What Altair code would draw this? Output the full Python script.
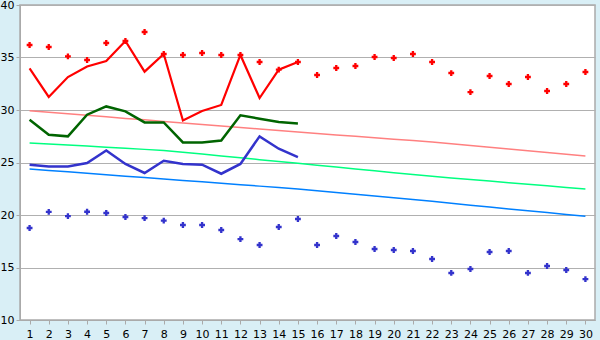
import altair as alt
import pandas as pd

days = list(range(1, 31))
days15 = list(range(1, 16))

red_points = [36.19, 36.0, 35.1, 34.76, 36.38, 36.57, 37.43, 35.33, 35.24, 35.43,
              35.24, 35.24, 34.57, 33.84, 34.57, 33.33, 34.0, 34.19, 35.05, 34.95,
              35.33, 34.57, 33.52, 31.71, 33.24, 32.48, 33.14, 31.81, 32.48, 33.62]
blue_points = [18.76, 20.29, 19.9, 20.31, 20.19, 19.81, 19.71, 19.46, 19.05, 19.05,
               18.57, 17.71, 17.14, 18.86, 19.62, 17.14, 18.0, 17.43, 16.76, 16.67,
               16.57, 15.81, 14.48, 14.86, 16.48, 16.57, 14.48, 15.14, 14.76, 13.90]

red_line = [33.96, 31.24, 33.14, 34.15, 34.67, 36.57, 33.65, 35.33, 29.0, 29.9,
            30.48, 35.24, 31.14, 33.84, 34.57]
green_line = [29.08, 27.65, 27.49, 29.55, 30.34, 29.87, 28.82, 28.82, 26.91, 26.91,
              27.1, 29.49, 29.17, 28.85, 28.72]
blue_line = [24.79, 24.63, 24.63, 24.95, 26.15, 24.86, 24.0, 25.17, 24.86, 24.79,
             23.93, 24.86, 27.49, 26.31, 25.52]

pink_trend = [29.93, 29.78, 29.64, 29.49, 29.35, 29.20, 29.06, 28.91, 28.77, 28.62,
              28.48, 28.33, 28.19, 28.04, 27.90, 27.76, 27.63, 27.49, 27.36, 27.22,
              27.09, 26.95, 26.78, 26.62, 26.45, 26.29, 26.12, 25.95, 25.79, 25.62]
green_trend = [26.86, 26.76, 26.66, 26.56, 26.45, 26.35, 26.25, 26.15, 25.97, 25.80,
               25.62, 25.45, 25.27, 25.10, 24.92, 24.74, 24.57, 24.39, 24.21, 24.03,
               23.86, 23.68, 23.53, 23.38, 23.23, 23.08, 22.93, 22.78, 22.63, 22.48]
blue_trend = [24.38, 24.24, 24.11, 23.97, 23.84, 23.70, 23.57, 23.43, 23.29, 23.16,
              23.02, 22.89, 22.75, 22.62, 22.48, 22.31, 22.14, 21.97, 21.81, 21.64,
              21.47, 21.30, 21.12, 20.94, 20.76, 20.58, 20.40, 20.23, 20.05, 19.87]

x_ticks = list(range(1, 31))
y_ticks = [10, 15, 20, 25, 30, 35, 40]

xscale = alt.Scale(domain=[0.5, 30.5], nice=False, zero=False)
yscale = alt.Scale(domain=[10, 40], nice=False, zero=False)

axis_common = dict(
    labelFont="DejaVu Sans", labelFontSize=11, labelColor="#000000",
    domainColor="#aaaaaa", tickColor="#aaaaaa", tickSize=4, title=None,
)
xaxis = alt.Axis(values=x_ticks, grid=False, labelPadding=4, labelAngle=0,
                 format="d", **axis_common)
yaxis = alt.Axis(values=y_ticks, grid=True, gridColor="#b0b0b0", gridWidth=1.2,
                 labelPadding=2, format="d", **axis_common)


def line_layer(xs, ys, color, width):
    df = pd.DataFrame({"d": xs, "v": ys})
    return alt.Chart(df).mark_line(color=color, strokeWidth=width, interpolate="linear").encode(
        x=alt.X("d:Q", scale=xscale, axis=xaxis),
        y=alt.Y("v:Q", scale=yscale, axis=yaxis),
    )


def point_layer(xs, ys, color):
    df = pd.DataFrame({"d": xs, "v": ys})
    return alt.Chart(df).mark_point(shape="cross", filled=True, color=color, size=34, opacity=1).encode(
        x=alt.X("d:Q", scale=xscale, axis=xaxis),
        y=alt.Y("v:Q", scale=yscale, axis=yaxis),
    )


chart = alt.layer(
    line_layer(days, pink_trend, "#ff8080", 1.5),
    line_layer(days, green_trend, "#00ff80", 1.5),
    line_layer(days, blue_trend, "#0080ff", 1.5),
    line_layer(days15, green_line, "#006400", 2.5),
    line_layer(days15, blue_line, "#3333cc", 2.5),
    line_layer(days15, red_line, "#ff0000", 2.2),
    point_layer(days, red_points, "#ff0000"),
    point_layer(days, blue_points, "#3333cc"),
).properties(
    width=575, height=315,
    background="#d9eff6",
    padding={"left": 20, "top": 5, "right": 5, "bottom": 20},
    autosize=alt.AutoSizeParams(type="none"),
).configure_view(
    fill="#ffffff", stroke="#aaaaaa", strokeWidth=1.5,
)

chart.save("out.html", embed_options={"renderer": "svg", "actions": False})
